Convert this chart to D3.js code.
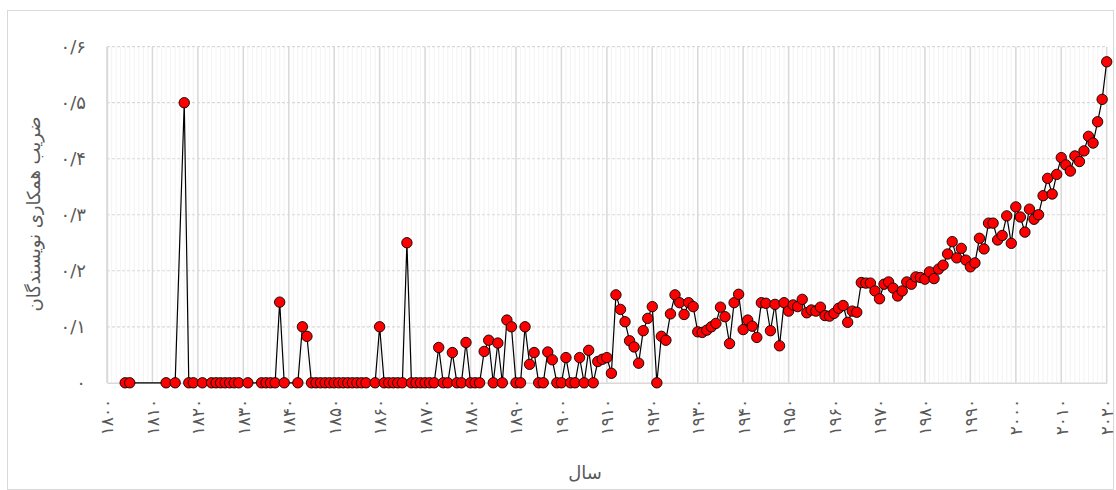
<!DOCTYPE html>
<html>
<head>
<meta charset="utf-8">
<script src="https://cdn.jsdelivr.net/npm/d3@7"></script>
<style>
  html, body { margin: 0; padding: 0; background: #fff; }
  svg { display: block; }
  text { font-family: "DejaVu Sans", sans-serif; fill: #595959; }
</style>
</head>
<body>
<div id="chart"></div>
<script>
// ---- data ----
const years = [
  1804,1805,1813,1815,1817,1818,1819,1821,1823,1824,1825,1826,1827,1828,1829,1831,
  1834,1835,1836,1837,1838,1839,1842,1843,1844,1845,1846,1847,1848,1849,1850,1851,
  1852,1853,1854,1855,1856,1857,1859,1860,1861,1862,1863,1864,1865,1866,1867,1868,
  1869,1870,1871,1872,1873,1874,1875,1876,1877,1878,1879,1880,1881,1882,1883,1884,
  1885,1886,1887,1888,1889,1890,1891,1892,1893,1894,1895,1896,1897,1898,1899,1900,
  1901,1902,1903,1904,1905,1906,1907,1908,1909,1910,1911,1912,1913,1914,1915,1916,
  1917,1918,1919,1920,1921,1922,1923,1924,1925,1926,1927,1928,1929,1930,1931,1932,
  1933,1934,1935,1936,1937,1938,1939,1940,1941,1942,1943,1944,1945,1946,1947,1948,
  1949,1950,1951,1952,1953,1954,1955,1956,1957,1958,1959,1960,1961,1962,1963,1964,
  1965,1966,1967,1968,1969,1970,1971,1972,1973,1974,1975,1976,1977,1978,1979,1980,
  1981,1982,1983,1984,1985,1986,1987,1988,1989,1990,1991,1992,1993,1994,1995,1996,
  1997,1998,1999,2000,2001,2002,2003,2004,2005,2006,2007,2008,2009,2010,2011,2012,
  2013,2014,2015,2016,2017,2018,2019,2020
];
const coauthorship = [
  0,0,0,0,0.5,0,0,0,0,0,0,0,0,0,0,0,
  0,0,0,0,0.144,0,0,0.1,0.083,0,0,0,0,0,0,0,
  0,0,0,0,0,0,0,0.1,0,0,0,0,0,0.25,0,0,
  0,0,0,0,0.063,0,0,0.054,0,0,0.072,0,0,0,0.056,0.076,
  0,0.071,0,0.112,0.1,0,0,0.1,0.033,0.054,0,0,0.055,0.041,0,0,
  0.045,0,0,0.045,0,0.058,0,0.038,0.042,0.045,0.017,0.157,0.131,0.109,0.075,0.064,
  0.035,0.093,0.115,0.136,0,0.083,0.076,0.123,0.157,0.143,0.122,0.143,0.136,0.091,0.09,0.094,
  0.1,0.106,0.135,0.118,0.07,0.143,0.158,0.095,0.112,0.101,0.081,0.143,0.142,0.093,0.14,0.066,
  0.143,0.128,0.139,0.136,0.149,0.125,0.13,0.128,0.135,0.12,0.119,0.124,0.133,0.138,0.108,0.128,
  0.126,0.179,0.178,0.178,0.164,0.15,0.176,0.18,0.169,0.155,0.164,0.18,0.176,0.189,0.188,0.185,
  0.198,0.186,0.203,0.21,0.23,0.252,0.223,0.24,0.219,0.207,0.214,0.258,0.239,0.285,0.285,0.255,
  0.263,0.298,0.249,0.314,0.296,0.269,0.31,0.292,0.3,0.334,0.365,0.337,0.372,0.402,0.389,0.378,
  0.405,0.395,0.414,0.44,0.428,0.466,0.506,0.573
];
const xTickValues = [1800,1810,1820,1830,1840,1850,1860,1870,1880,1890,1900,1910,1920,1930,1940,1950,1960,1970,1980,1990,2000,2010,2020];
const xTickLabels = ["۱۸۰۰","۱۸۱۰","۱۸۲۰","۱۸۳۰","۱۸۴۰","۱۸۵۰","۱۸۶۰","۱۸۷۰","۱۸۸۰","۱۸۹۰","۱۹۰۰","۱۹۱۰","۱۹۲۰","۱۹۳۰","۱۹۴۰","۱۹۵۰","۱۹۶۰","۱۹۷۰","۱۹۸۰","۱۹۹۰","۲۰۰۰","۲۰۱۰","۲۰۲۰"];
const yTickValues = [0,0.1,0.2,0.3,0.4,0.5,0.6];
const yTickLabels = ["۰","۰/۱","۰/۲","۰/۳","۰/۴","۰/۵","۰/۶"];
const xTitle = "سال";
const yTitle = "ضریب همکاری نویسندگان";

// ---- drawing ----
const W = 1116, H = 490;
const pLeft = 107, pRight = 1106.7, pTop = 46.7, pBottom = 382.8;

const svg = d3.select("#chart").append("svg").attr("width", W).attr("height", H);

svg.append("rect").attr("x", 7.5).attr("y", 10.5).attr("width", 1106).attr("height", 479)
  .attr("fill", "#fff").attr("stroke", "#d9d9d9").attr("stroke-width", 1);

const x = d3.scaleLinear().domain([1800, 2020]).range([pLeft, pRight]);
const y = d3.scaleLinear().domain([0, 0.6]).range([pBottom, pTop]);

const grid = svg.append("g");
grid.selectAll("line.minor").data(d3.range(1800, 2021)).enter().append("line")
  .attr("x1", d => x(d)).attr("x2", d => x(d)).attr("y1", pTop).attr("y2", pBottom)
  .attr("stroke", "#f0f0f0").attr("stroke-width", 0.8);
grid.selectAll("line.h").data(yTickValues.slice(1)).enter().append("line")
  .attr("x1", pLeft).attr("x2", pRight).attr("y1", d => y(d)).attr("y2", d => y(d))
  .attr("stroke", "#d9d9d9").attr("stroke-width", 1.2).attr("stroke-dasharray", "3,2");
grid.selectAll("line.major").data(xTickValues).enter().append("line")
  .attr("x1", d => x(d)).attr("x2", d => x(d)).attr("y1", pTop).attr("y2", pBottom)
  .attr("stroke", "#d9d9d9").attr("stroke-width", 1.5);

const xAxis = d3.axisBottom(x).tickValues(xTickValues)
  .tickFormat((d, i) => xTickLabels[i]).tickSize(0).tickPadding(0);
const gx = svg.append("g").attr("transform", `translate(0,${pBottom})`).call(xAxis);
gx.select(".domain").attr("stroke", "#d9d9d9").attr("stroke-width", 1.5);
gx.selectAll("text")
  .attr("transform", "rotate(-90)")
  .attr("text-anchor", "end")
  .attr("x", -16).attr("y", 0).attr("dy", "0.35em")
  .style("font-size", "17px").style("letter-spacing", "1px")
  .style("font-family", "DejaVu Sans").attr("fill", "#6a6a6a");

const yAxis = d3.axisLeft(y).tickValues(yTickValues)
  .tickFormat((d, i) => yTickLabels[i]).tickSize(0).tickPadding(21);
const gy = svg.append("g").attr("transform", `translate(${pLeft},0)`).call(yAxis);
gy.select(".domain").attr("stroke", "#d9d9d9").attr("stroke-width", 1.5);
gy.selectAll("text").style("font-size", "18px").style("font-family", "DejaVu Sans").attr("fill", "#6a6a6a");

const pts = years.map((yr, i) => [yr, coauthorship[i]]);
svg.append("path").datum(pts)
  .attr("fill", "none").attr("stroke", "#000").attr("stroke-width", 1.2)
  .attr("d", d3.line().x(d => x(d[0])).y(d => y(d[1])));

svg.append("g").selectAll("circle").data(pts).enter().append("circle")
  .attr("cx", d => x(d[0])).attr("cy", d => y(d[1])).attr("r", 5.2)
  .attr("fill", "#ff0000").attr("stroke", "#000").attr("stroke-width", 0.9);

svg.append("text").attr("x", 585).attr("y", 479).attr("text-anchor", "middle")
  .style("font-size", "18px").attr("fill", "#6a6a6a").text(xTitle);
svg.append("text").attr("transform", "translate(40,214) rotate(-90)")
  .attr("text-anchor", "middle").style("font-size", "18px").attr("fill", "#6a6a6a").text(yTitle);
</script>
</body>
</html>
